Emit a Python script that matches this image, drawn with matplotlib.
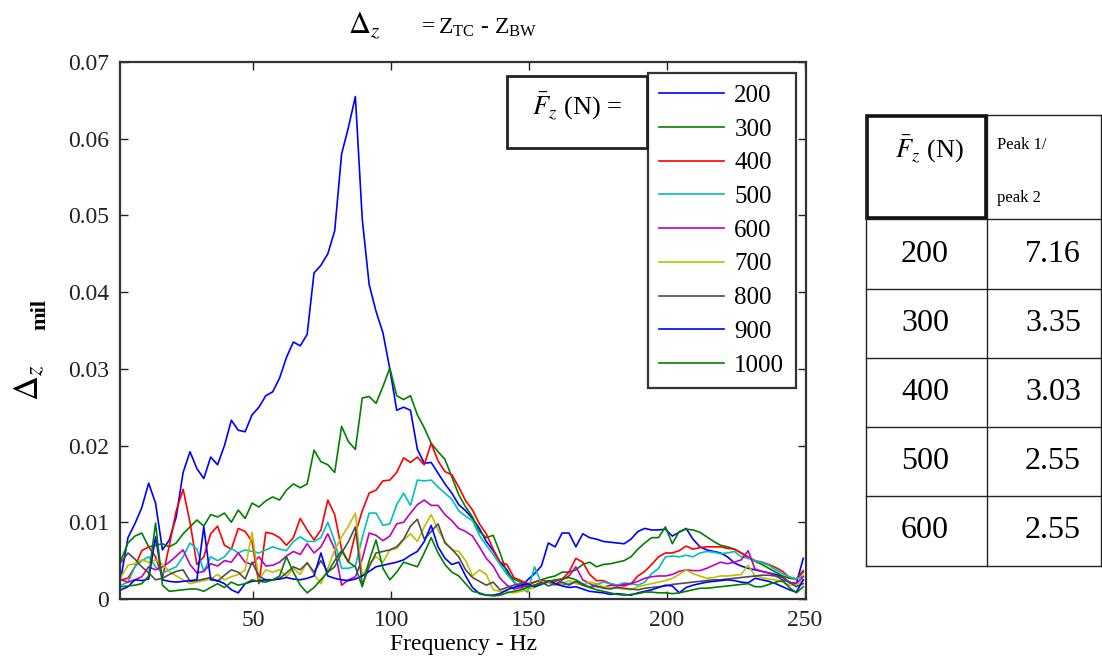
import numpy as np
import matplotlib
matplotlib.use("Agg")
import matplotlib.pyplot as plt
from matplotlib.patches import Rectangle
from matplotlib.lines import Line2D

plt.rcParams['font.family'] = ['Liberation Serif', 'DejaVu Serif']
plt.rcParams['mathtext.fontset'] = 'custom'
plt.rcParams['mathtext.rm'] = 'Liberation Serif'
plt.rcParams['mathtext.it'] = 'Liberation Serif:italic'
plt.rcParams['mathtext.bf'] = 'Liberation Serif:bold'

# ---------------- data (values in units of 1e-3 mil) ----------------
freq = 2 + 2.5 * np.arange(100)   # Hz grid, 2 ... 249.5

d200 = [2.9, 8.0, 9.8, 11.9, 15.1, 12.5, 6.4, 7.7, 10.7, 16.5,
        19.2, 17.0, 15.7, 18.5, 17.5, 20.0, 23.3, 22.0, 21.8, 24.0,
        25.0, 26.5, 27.0, 28.8, 31.5, 33.5, 33.0, 34.5, 42.5, 43.5,
        45.0, 48.0, 58.0, 61.5, 65.5, 49.5, 41.0, 37.5, 34.7, 30.0,
        24.6, 25.0, 24.6, 19.5, 17.7, 17.8, 16.4, 15.0, 13.8, 12.3,
        11.5, 10.5, 9.2, 7.5, 6.3, 4.8, 3.8, 2.2, 1.5, 2.5,
        3.3, 4.3, 7.3, 6.8, 8.6, 8.6, 6.8, 8.5, 8.0, 7.8,
        7.5, 7.4, 7.3, 7.2, 7.8, 8.8, 9.2, 9.0, 9.0, 9.1,
        8.2, 8.7, 9.2, 7.8, 6.8, 6.4, 6.2, 6.0, 5.5, 4.7,
        4.3, 4.0, 3.8, 3.6, 3.4, 3.2, 2.9, 2.1, 2.0, 5.3]

d300 = [5.1, 7.3, 8.2, 8.6, 6.8, 7.0, 7.2, 6.8, 7.3, 8.5,
        9.4, 10.3, 9.5, 11.0, 10.7, 11.2, 10.0, 11.6, 10.5, 12.5,
        12.0, 12.8, 13.3, 12.9, 14.2, 15.0, 14.5, 15.0, 19.4, 17.9,
        17.5, 16.5, 22.5, 20.5, 19.5, 26.2, 26.4, 25.5, 27.7, 30.1,
        26.5, 26.0, 26.5, 24.0, 22.3, 20.3, 19.2, 18.2, 15.9, 13.6,
        12.0, 10.7, 8.8, 8.0, 8.3, 6.0, 3.4, 2.6, 2.2, 1.8,
        2.2, 2.5, 2.8, 3.0, 3.5, 3.5, 3.8, 4.5, 4.8, 4.2,
        4.5, 4.6, 4.8, 5.0, 5.5, 6.5, 7.3, 8.0, 8.0, 9.4,
        7.2, 8.8, 9.1, 9.0, 8.7, 8.1, 7.5, 7.0, 6.8, 6.5,
        6.0, 5.4, 4.9, 4.5, 4.0, 3.5, 3.0, 2.7, 2.6, 3.5]

d400 = [2.5, 2.7, 4.2, 6.3, 6.8, 5.5, 2.8, 7.0, 11.5, 14.3,
        10.0, 4.5, 5.5, 8.5, 9.5, 7.0, 6.5, 9.2, 8.8, 7.5,
        2.0, 8.7, 8.5, 8.0, 7.0, 8.0, 10.5, 9.0, 7.7, 9.0,
        12.9, 11.0, 6.5, 4.8, 8.5, 11.5, 13.8, 14.2, 15.4, 15.5,
        16.5, 18.4, 17.8, 18.5, 17.5, 20.3, 18.0, 16.6, 16.2, 14.6,
        12.8, 11.6, 9.8, 8.5, 6.5, 4.8, 4.5, 2.8, 2.4, 2.0,
        2.2, 2.5, 2.2, 2.3, 2.6, 3.5, 5.3, 4.8, 3.2, 2.4,
        2.4, 2.0, 1.8, 1.7, 2.0, 3.0, 3.6, 4.5, 5.5, 6.0,
        6.0, 6.3, 6.9, 6.5, 6.7, 6.8, 6.8, 6.8, 6.6, 6.5,
        6.0, 5.5, 5.0, 4.8, 4.5, 4.1, 3.6, 2.8, 2.6, 3.7]

d500 = [1.8, 2.2, 4.2, 5.0, 5.5, 4.2, 3.4, 3.8, 4.2, 5.5,
        7.3, 6.5, 3.6, 5.5, 5.0, 5.5, 6.6, 6.0, 6.4, 6.2,
        6.0, 6.4, 6.8, 6.5, 6.3, 7.5, 8.1, 7.5, 7.5, 8.0,
        10.0, 7.5, 4.0, 4.0, 4.3, 8.0, 11.2, 11.2, 9.6, 9.8,
        12.3, 13.8, 12.2, 15.5, 15.4, 15.5, 14.6, 13.8, 13.0, 11.5,
        10.8, 10.2, 8.3, 7.0, 5.8, 4.5, 3.2, 2.2, 1.5, 0.9,
        4.2, 2.0, 2.2, 2.0, 1.8, 2.0, 2.3, 1.8, 1.6, 1.9,
        2.2, 2.0, 1.8, 2.1, 2.0, 1.8, 2.2, 3.3, 4.0, 5.5,
        5.6, 5.5, 5.7, 5.5, 6.0, 6.2, 6.1, 5.9, 6.0, 6.2,
        5.5, 5.3, 5.0, 4.7, 4.4, 3.8, 3.3, 2.9, 2.6, 3.0]

d600 = [2.5, 2.2, 2.5, 2.9, 4.2, 3.8, 4.2, 4.8, 5.6, 6.4,
        4.5, 3.4, 3.6, 4.6, 4.3, 5.0, 4.8, 6.0, 4.8, 4.5,
        5.5, 4.3, 4.4, 4.8, 5.6, 6.2, 5.8, 7.2, 6.0, 6.8,
        8.5, 6.5, 1.8, 2.5, 2.9, 5.2, 8.6, 8.3, 7.6, 8.2,
        9.8, 10.0, 11.2, 12.3, 12.9, 12.2, 12.2, 11.0, 10.2, 9.2,
        8.8, 8.2, 6.8, 5.3, 4.3, 2.7, 1.8, 1.3, 1.5, 1.7,
        1.6, 2.0, 2.2, 1.8, 2.5, 3.0, 4.2, 2.5, 2.0, 1.6,
        1.5, 1.8, 1.7, 1.9, 2.0, 2.3, 2.7, 2.9, 3.0, 3.0,
        3.2, 3.6, 3.8, 3.7, 3.7, 4.0, 4.4, 4.8, 4.6, 4.8,
        5.1, 6.3, 3.9, 3.6, 3.4, 3.0, 2.5, 2.2, 2.0, 2.9]

d700 = [2.9, 4.4, 4.6, 5.1, 4.8, 5.1, 4.5, 3.6, 3.0, 2.5,
        2.0, 2.2, 2.4, 2.6, 3.2, 2.5, 2.9, 3.2, 3.8, 8.7,
        2.6, 3.8, 3.5, 3.8, 2.9, 4.0, 3.2, 4.8, 3.2, 2.0,
        4.0, 6.4, 8.1, 9.5, 11.2, 3.0, 4.6, 5.5, 4.8, 6.4,
        6.6, 7.7, 8.5, 7.5, 9.4, 11.0, 9.0, 7.5, 6.4, 6.2,
        5.0, 3.0, 3.8, 3.2, 1.2, 1.0, 1.0, 0.8, 1.0, 1.2,
        1.5, 2.0, 2.3, 1.8, 2.0, 2.4, 2.0, 1.8, 2.2, 2.0,
        1.6, 1.5, 1.4, 1.3, 1.2, 1.6, 1.8, 2.0, 2.2, 2.4,
        2.7, 3.2, 3.8, 3.3, 3.0, 2.7, 2.8, 3.0, 3.0, 3.1,
        3.2, 4.4, 3.0, 2.8, 2.6, 2.5, 2.2, 1.8, 1.8, 2.5]

d800 = [4.8, 6.0, 5.2, 4.2, 3.4, 2.5, 2.7, 3.2, 3.6, 3.8,
        2.3, 2.4, 2.6, 2.8, 2.3, 3.1, 3.8, 3.5, 2.6, 4.8,
        3.0, 2.5, 2.5, 2.7, 3.4, 4.2, 3.8, 4.7, 3.5, 5.0,
        3.5, 4.2, 6.0, 7.5, 9.4, 1.8, 4.2, 6.0, 6.2, 6.4,
        6.8, 7.8, 9.5, 10.4, 7.8, 8.8, 9.8, 7.3, 6.5, 5.5,
        3.8, 2.8, 2.3, 1.8, 2.2, 1.2, 1.5, 1.8, 2.0, 1.6,
        1.8, 2.2, 1.7, 2.0, 2.2, 1.8, 2.3, 1.8, 1.5, 1.7,
        1.4, 1.3, 1.5, 1.4, 1.3, 1.2, 1.4, 1.5, 1.6, 1.7,
        1.9, 2.0, 2.1, 2.2, 2.3, 2.4, 2.5, 2.5, 2.6, 2.7,
        2.8, 2.9, 3.0, 3.1, 3.1, 3.0, 2.8, 2.2, 1.6, 2.0]

d900 = [1.2, 1.6, 2.5, 2.4, 2.6, 8.1, 2.5, 2.3, 2.2, 2.3,
        2.4, 2.5, 9.4, 2.5, 2.4, 2.0, 1.2, 0.8, 2.0, 2.3,
        2.4, 2.5, 2.5, 2.6, 2.8, 2.6, 2.5, 2.7, 3.0, 6.0,
        3.0, 2.7, 2.5, 2.4, 2.6, 3.0, 3.6, 4.2, 4.4, 4.6,
        4.8, 5.1, 5.7, 6.2, 7.5, 9.6, 6.8, 5.3, 4.5, 4.8,
        3.0, 1.5, 0.7, 0.5, 0.5, 0.7, 1.2, 1.5, 1.8, 2.0,
        1.6, 1.9, 2.4, 2.0, 1.7, 1.5, 1.6, 1.3, 1.0, 0.9,
        0.8, 0.6, 0.7, 0.6, 0.5, 0.8, 1.0, 1.2, 1.5, 1.8,
        1.7, 0.8, 1.5, 1.8, 2.0, 2.2, 2.3, 2.4, 2.5, 2.4,
        2.2, 2.1, 2.7, 2.5, 2.3, 2.0, 1.6, 1.2, 0.9, 2.5]

d1000 = [1.6, 1.7, 1.8, 2.0, 3.0, 9.9, 1.8, 1.0, 1.1, 1.2,
         1.3, 1.3, 1.0, 1.5, 2.0, 1.5, 2.2, 1.8, 2.0, 2.5,
         2.3, 2.2, 2.5, 3.0, 5.5, 3.5, 1.8, 0.8, 1.5, 2.5,
         3.5, 5.0, 6.3, 4.8, 4.2, 1.6, 5.0, 7.7, 4.0, 2.5,
         3.5, 4.8, 4.5, 4.2, 6.0, 8.0, 6.0, 4.5, 3.5, 3.0,
         2.0, 1.0, 0.8, 0.5, 0.4, 0.5, 0.8, 1.0, 1.2, 1.5,
         1.8, 2.0, 2.3, 2.5, 2.6, 2.8, 2.5, 2.0, 1.5, 1.2,
         1.0, 0.8, 0.6, 0.5, 0.6, 0.7, 0.9, 0.9, 0.8, 0.8,
         0.7, 0.8, 1.0, 1.2, 1.4, 1.4, 1.5, 1.6, 1.7, 1.8,
         1.9, 2.0, 1.6, 1.6, 1.9, 2.2, 2.4, 1.5, 0.8, 1.6]

series_labels = ['200', '300', '400', '500', '600', '700', '800', '900', '1000']
series_data = [d200, d300, d400, d500, d600, d700, d800, d900, d1000]
series_colors = ['#0000ff', '#008000', '#ff0000', '#00bfbf', '#bf00bf',
                 '#bfbf00', '#4d4d4d', '#0000ff', '#008000']

xticks = [50, 100, 150, 200, 250]
yticks = [0, 0.01, 0.02, 0.03, 0.04, 0.05, 0.06, 0.07]
ytick_labels = ['0', '0.01', '0.02', '0.03', '0.04', '0.05', '0.06', '0.07']

table_forces = ['200', '300', '400', '500', '600']
table_ratios = ['7.16', '3.35', '3.03', '2.55', '2.55']

# ---------------- figure ----------------
W, H = 1102, 667
fig = plt.figure(figsize=(W / 100, H / 100), dpi=100)

def fx(x):
    return x / W

def fy(y):
    return 1 - y / H

ax = fig.add_axes([fx(120), fy(599), fx(806) - fx(120), fy(62) - fy(599)])
handles = []
for lab, d, c in zip(series_labels, series_data, series_colors):
    h, = ax.plot(freq, np.asarray(d) / 1000.0, color=c, lw=1.2, label=lab)
    handles.append(h)

ax.set_xlim(1.6, 250.5)
ax.set_ylim(0, 0.07)
ax.set_xticks(xticks)
ax.set_xticklabels([str(t) for t in xticks])
ax.set_yticks(yticks)
ax.set_yticklabels(ytick_labels)
ax.tick_params(direction='in', length=6, width=1, top=True, right=True,
               labelsize=17, pad=8, colors='#222222')
for s in ax.spines.values():
    s.set_linewidth(1.6)
    s.set_color('#333333')
ax.set_xlabel('Frequency - Hz', fontsize=17, labelpad=2)

leg = ax.legend(handles=handles, loc='upper left',
                bbox_to_anchor=(fx(648), fy(73)), bbox_transform=fig.transFigure,
                borderaxespad=0, fancybox=False, framealpha=1, edgecolor='#333333',
                fontsize=18, handlelength=2.6, handletextpad=0.4,
                labelspacing=0.45, borderpad=0.45)
leg.get_frame().set_linewidth(1.6)

# "F_z (N) =" box
fig.add_artist(Rectangle((fx(507), fy(148)), fx(647) - fx(507), fy(76) - fy(148),
                         transform=fig.transFigure, fill=False, lw=2, ec='#222222'))
fig.text(fx(577), fy(106), r'$\bar{F}_z$ (N) =', ha='center', va='center',
         fontsize=19, math_fontfamily='stix')

# title
fig.text(fx(348), fy(26), r'$\Delta_z$', ha='left', va='center', fontsize=22,
         math_fontfamily='stix')
fig.text(fx(418), fy(28), r'$=\mathrm{Z}_{\mathrm{TC}}$ - $\mathrm{Z}_{\mathrm{BW}}$',
         ha='left', va='center', fontsize=17)

# y label
fig.text(fx(30), fy(383), r'$\Delta_z$', rotation=90, ha='center', va='center',
         fontsize=25, math_fontfamily='stix')
fig.text(fx(40), fy(314), 'mil', rotation=90, ha='center', va='center',
         fontsize=16, fontweight='bold')

# table on the right
tl, tm, tr = 866, 987, 1101
rows_y = [115, 219, 289, 358, 427, 496, 566]
for y in rows_y[1:]:
    fig.add_artist(Line2D([fx(tl), fx(tr)], [fy(y), fy(y)], transform=fig.transFigure,
                          color='#222222', lw=1))
fig.add_artist(Line2D([fx(tm), fx(tr)], [fy(115), fy(115)], transform=fig.transFigure,
                      color='#222222', lw=1))
fig.add_artist(Line2D([fx(tl), fx(tl)], [fy(115), fy(566)], transform=fig.transFigure,
                      color='#222222', lw=1))
fig.add_artist(Line2D([fx(tm), fx(tm)], [fy(115), fy(566)], transform=fig.transFigure,
                      color='#222222', lw=1))
fig.add_artist(Line2D([fx(tr), fx(tr)], [fy(115), fy(566)], transform=fig.transFigure,
                      color='#222222', lw=1))
fig.add_artist(Rectangle((fx(867), fy(218)), fx(986) - fx(867), fy(116) - fy(218),
                         transform=fig.transFigure, fill=False, lw=2.6, ec='#111111'))
fig.text(fx(929), fy(149), r'$\bar{F}_z$ (N)', ha='center', va='center',
         fontsize=19, math_fontfamily='stix')
fig.text(fx(997), fy(145), 'Peak 1/', ha='left', va='center', fontsize=12)
fig.text(fx(997), fy(198), 'peak 2', ha='left', va='center', fontsize=12)
for i, (fz, r) in enumerate(zip(table_forces, table_ratios)):
    yc = (rows_y[i + 1] + rows_y[i + 2]) / 2
    fig.text(fx(925), fy(yc), fz, ha='center', va='center', fontsize=23)
    fig.text(fx(1053), fy(yc), r, ha='center', va='center', fontsize=23)

fig.savefig('out.png', dpi=100)
